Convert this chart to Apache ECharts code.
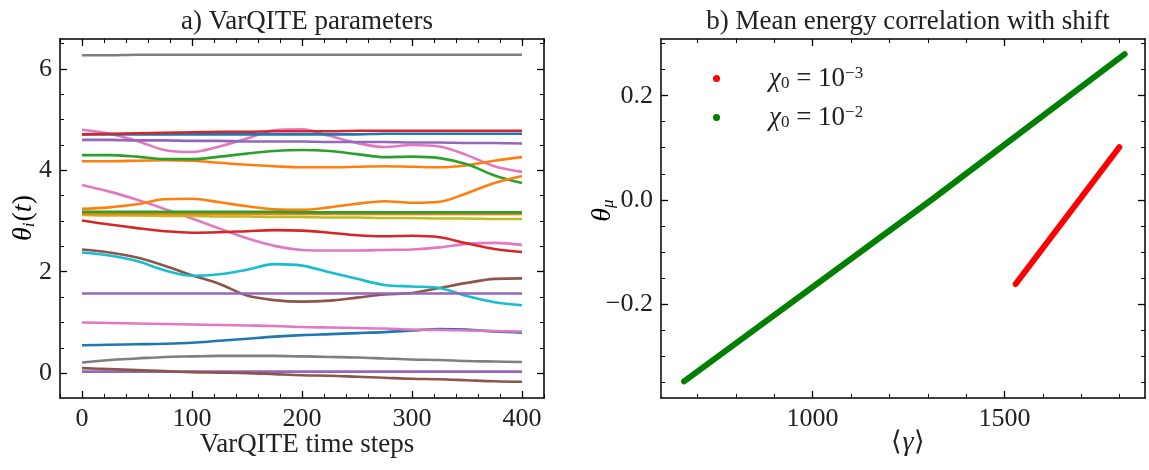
<!DOCTYPE html>
<html>
<head>
<meta charset="utf-8">
<script src="https://cdn.jsdelivr.net/npm/echarts@6/dist/echarts.min.js"></script>
<style>
  html, body { margin: 0; padding: 0; background: #fff; }
  #chart { width: 1149px; height: 470px; }
</style>
</head>
<body>
<div id="chart"></div>
<script>
// a) VarQITE parameters, sampled every 25 time steps
const steps = [0, 25, 50, 75, 100, 125, 150, 175, 200, 225, 250, 275, 300, 325, 350, 375, 400]
const thetaGrayTop = [6.27, 6.27, 6.28, 6.28, 6.28, 6.28, 6.28, 6.28, 6.28, 6.28, 6.28, 6.28, 6.28, 6.28, 6.28, 6.28, 6.28]
const thetaRedTop = [4.71, 4.72, 4.73, 4.74, 4.75, 4.76, 4.76, 4.77, 4.77, 4.77, 4.78, 4.78, 4.78, 4.78, 4.78, 4.78, 4.78]
const thetaBlueTop = [4.71, 4.71, 4.71, 4.71, 4.71, 4.71, 4.71, 4.71, 4.71, 4.71, 4.71, 4.72, 4.72, 4.72, 4.72, 4.72, 4.72]
const thetaPurpleTop = [4.60, 4.60, 4.59, 4.59, 4.58, 4.58, 4.57, 4.57, 4.57, 4.56, 4.56, 4.56, 4.55, 4.55, 4.54, 4.54, 4.53]
const thetaPinkTop = [4.80, 4.72, 4.58, 4.40, 4.36, 4.47, 4.63, 4.79, 4.81, 4.68, 4.54, 4.46, 4.50, 4.47, 4.30, 4.08, 3.97]
const thetaGreenTop = [4.30, 4.30, 4.27, 4.22, 4.22, 4.27, 4.33, 4.38, 4.40, 4.38, 4.32, 4.26, 4.27, 4.24, 4.12, 3.90, 3.75]
const thetaOrangeTop = [4.18, 4.18, 4.19, 4.20, 4.19, 4.15, 4.11, 4.08, 4.06, 4.06, 4.07, 4.08, 4.07, 4.06, 4.10, 4.19, 4.26]
const thetaPinkMid = [3.71, 3.58, 3.42, 3.24, 3.05, 2.85, 2.66, 2.51, 2.43, 2.42, 2.42, 2.43, 2.44, 2.48, 2.55, 2.57, 2.53]
const thetaOrangeMid = [3.24, 3.27, 3.33, 3.43, 3.44, 3.37, 3.29, 3.23, 3.22, 3.27, 3.34, 3.39, 3.36, 3.38, 3.55, 3.75, 3.89]
const thetaGreenMid = [3.18, 3.18, 3.18, 3.18, 3.18, 3.18, 3.18, 3.18, 3.17, 3.17, 3.17, 3.17, 3.17, 3.17, 3.17, 3.17, 3.17]
const thetaOrangeFlat = [3.14, 3.14, 3.14, 3.14, 3.14, 3.14, 3.14, 3.14, 3.14, 3.14, 3.14, 3.14, 3.14, 3.14, 3.14, 3.14, 3.14]
const thetaOlive = [3.12, 3.11, 3.11, 3.10, 3.10, 3.09, 3.09, 3.08, 3.08, 3.07, 3.07, 3.06, 3.06, 3.05, 3.05, 3.04, 3.04]
const thetaRedMid = [3.01, 2.93, 2.86, 2.80, 2.77, 2.78, 2.80, 2.82, 2.81, 2.77, 2.72, 2.70, 2.71, 2.68, 2.56, 2.45, 2.39]
const thetaBrownMid = [2.44, 2.38, 2.28, 2.12, 1.93, 1.76, 1.53, 1.44, 1.41, 1.43, 1.49, 1.55, 1.58, 1.68, 1.78, 1.86, 1.87]
const thetaCyan = [2.38, 2.32, 2.21, 2.03, 1.92, 1.95, 2.04, 2.15, 2.12, 1.99, 1.86, 1.74, 1.71, 1.68, 1.52, 1.40, 1.34]
const thetaPurpleMid = [1.57, 1.57, 1.57, 1.57, 1.57, 1.57, 1.57, 1.57, 1.57, 1.57, 1.57, 1.57, 1.57, 1.57, 1.57, 1.57, 1.57]
const thetaPinkLow = [1.00, 0.99, 0.98, 0.97, 0.96, 0.95, 0.94, 0.93, 0.91, 0.90, 0.89, 0.88, 0.86, 0.85, 0.84, 0.83, 0.82]
const thetaBlueLow = [0.55, 0.56, 0.57, 0.58, 0.60, 0.64, 0.68, 0.72, 0.75, 0.77, 0.79, 0.81, 0.84, 0.87, 0.86, 0.82, 0.80]
const thetaGrayLow = [0.21, 0.26, 0.29, 0.32, 0.33, 0.34, 0.34, 0.34, 0.33, 0.32, 0.31, 0.29, 0.27, 0.26, 0.24, 0.23, 0.22]
const thetaPurpleLow = [0.03, 0.03, 0.03, 0.03, 0.03, 0.03, 0.03, 0.03, 0.03, 0.03, 0.03, 0.03, 0.03, 0.03, 0.03, 0.03, 0.03]
const thetaBrownLow = [0.10, 0.08, 0.06, 0.04, 0.02, 0.01, 0.00, -0.02, -0.04, -0.05, -0.07, -0.09, -0.11, -0.12, -0.14, -0.16, -0.17]

// b) mean energy vs shift
const gammaChi3 = [1529, 1799]
const muChi3 = [-0.162, 0.101]
const gammaChi2 = [665, 1310, 1813]
const muChi2 = [-0.349, 0.0, 0.280]

// tick labels
const ticksLeftX = [0, 100, 200, 300, 400]
const ticksLeftY = [0, 2, 4, 6]
const ticksRightX = [1000, 1500]
const ticksRightY = [-0.2, 0.0, 0.2]

const paramLines = [
  [thetaGrayTop, '#7f7f7f'],
  [thetaPinkTop, '#e377c2'],
  [thetaBlueTop, '#1f77b4'],
  [thetaRedTop, '#d62728'],
  [thetaPurpleTop, '#9467bd'],
  [thetaOrangeTop, '#ff7f0e'],
  [thetaGreenTop, '#2ca02c'],
  [thetaPinkMid, '#e377c2'],
  [thetaOrangeMid, '#ff7f0e'],
  [thetaOlive, '#bcbd22'],
  [thetaOrangeFlat, '#ff7f0e'],
  [thetaGreenMid, '#2ca02c'],
  [thetaRedMid, '#d62728'],
  [thetaBrownMid, '#8c564b'],
  [thetaCyan, '#17becf'],
  [thetaPurpleMid, '#9467bd'],
  [thetaBlueLow, '#1f77b4'],
  [thetaPinkLow, '#e377c2'],
  [thetaGrayLow, '#7f7f7f'],
  [thetaPurpleLow, '#9467bd'],
  [thetaBrownLow, '#8c564b'],
]

const FONT = 'Liberation Serif'
const INK = '#222'
const frame = { show: true, onZero: false, lineStyle: { color: '#000', width: 1.5 } }

// minor tick positions between the axis limits
function minorTicks(lo, hi, step) {
  const out = []
  for (let v = Math.ceil(lo / step) * step; v <= hi + 1e-9; v += step) out.push(+v.toFixed(6))
  return out
}

// one side of a frame: major ticks (+ labels), then a second axis for minor ticks
function sideAxes(grid, pos, min, max, major, minorStep, labels, fmt) {
  const base = {
    gridIndex: grid, position: pos, type: 'value', min: min, max: max,
    splitLine: { show: false },
  }
  return [
    Object.assign({}, base, {
      axisLine: frame,
      axisTick: { show: true, inside: true, length: 7, customValues: major, lineStyle: { color: '#000', width: 1.3 } },
      axisLabel: {
        show: labels, customValues: major, margin: 8,
        fontFamily: FONT, fontSize: 26, color: INK, formatter: fmt,
      },
    }),
    Object.assign({}, base, {
      axisLine: { show: false, onZero: false },
      axisTick: { show: true, inside: true, length: 4, customValues: minorTicks(min, max, minorStep), lineStyle: { color: '#000', width: 1 } },
      axisLabel: { show: false },
    }),
  ]
}

const fmtInt = (v) => String(Math.round(v))
const fmtDec = (v) => (v < 0 ? '\u2212' : '') + Math.abs(v).toFixed(1)

const LX = [-20, 420], LY = [-0.49, 6.59]
const RX = [605, 1866], RY = [-0.381, 0.309]

const xAxes = [].concat(
  sideAxes(0, 'bottom', LX[0], LX[1], ticksLeftX, 20, true, fmtInt),
  sideAxes(0, 'top', LX[0], LX[1], ticksLeftX, 20, false),
  sideAxes(1, 'bottom', RX[0], RX[1], ticksRightX, 100, true, fmtInt),
  sideAxes(1, 'top', RX[0], RX[1], ticksRightX, 100, false),
)
const yAxes = [].concat(
  sideAxes(0, 'left', LY[0], LY[1], ticksLeftY, 0.5, true, fmtInt),
  sideAxes(0, 'right', LY[0], LY[1], ticksLeftY, 0.5, false),
  sideAxes(1, 'left', RY[0], RY[1], ticksRightY, 0.05, true, fmtDec),
  sideAxes(1, 'right', RY[0], RY[1], ticksRightY, 0.05, false),
)

const series = paramLines.map(([vals, color]) => ({
  type: 'line', xAxisIndex: 0, yAxisIndex: 0,
  data: steps.map((s, i) => [s, vals[i]]),
  smooth: 0.35, showSymbol: false, silent: true,
  lineStyle: { color: color, width: 2.6 },
}))

series.push({
  name: 'chi3', type: 'line', xAxisIndex: 4, yAxisIndex: 4,
  data: gammaChi3.map((g, i) => [g, muChi3[i]]),
  showSymbol: false, color: '#ff0000',
  lineStyle: { color: '#ff0000', width: 6, cap: 'round' },
})
series.push({
  name: 'chi2', type: 'line', xAxisIndex: 4, yAxisIndex: 4,
  data: gammaChi2.map((g, i) => [g, muChi2[i]]),
  showSymbol: false, color: '#008000',
  lineStyle: { color: '#008000', width: 6, cap: 'round' },
})

const mathRich = {
  it: { fontFamily: FONT, fontStyle: 'italic', fontSize: 28, color: INK },
  rm: { fontFamily: FONT, fontSize: 28, color: INK },
  sub: { fontFamily: FONT, fontStyle: 'italic', fontSize: 17, color: INK, verticalAlign: 'bottom', padding: [0, 1, 0, 0] },
}

const legendNames = { chi3: '\u22123', chi2: '\u22122' }
const titleStyle = { fontFamily: FONT, fontSize: 27, fontWeight: 'normal', color: INK }

const chart = echarts.init(document.getElementById('chart'), null, { renderer: 'canvas' })
chart.setOption({
  animation: false,
  backgroundColor: '#fff',
  title: [
    { text: 'a) VarQITE parameters', left: 302, top: 3, textAlign: 'center', textStyle: titleStyle },
    { text: 'b) Mean energy correlation with shift', left: 903, top: 3, textAlign: 'center', textStyle: titleStyle },
    { text: 'VarQITE time steps', left: 302, top: 426, textAlign: 'center', textStyle: titleStyle },
    { text: '\u27e8{it|\u03b3}\u27e9', left: 903, top: 424, textAlign: 'center',
      textStyle: Object.assign({ rich: mathRich }, titleStyle) },
  ],
  graphic: [
    { type: 'text', x: 24, y: 218, rotation: Math.PI / 2,
      style: { text: '{it|\u03b8}{sub|i}{rm|(}{it|t}{rm|)}', rich: mathRich, align: 'center', verticalAlign: 'middle' } },
    { type: 'text', x: 603, y: 210, rotation: Math.PI / 2,
      style: { text: '{it|\u03b8}{sub|\u03bc}', rich: mathRich, align: 'center', verticalAlign: 'middle' } },
  ],
  legend: {
    orient: 'vertical', left: 708, top: 60, itemGap: 12,
    icon: 'circle', itemWidth: 7, itemHeight: 7,
    data: ['chi3', 'chi2'],
    formatter: (name) => '{it|\u03c7}{sub|0}{rm| = 10}{sup|' + legendNames[name] + '}',
    textStyle: {
      rich: {
        it: { fontFamily: FONT, fontStyle: 'italic', fontSize: 27, color: INK, padding: [0, 0, 0, 44] },
        sub: { fontFamily: FONT, fontSize: 17, color: INK, verticalAlign: 'bottom' },
        rm: { fontFamily: FONT, fontSize: 27, color: INK },
        sup: { fontFamily: FONT, fontSize: 17, color: INK, verticalAlign: 'top' },
      },
    },
  },
  grid: [
    { left: 60, top: 39, width: 484, height: 359 },
    { left: 661, top: 39, width: 484, height: 359 },
  ],
  xAxis: xAxes,
  yAxis: yAxes,
  series: series,
})
</script>
</body>
</html>
